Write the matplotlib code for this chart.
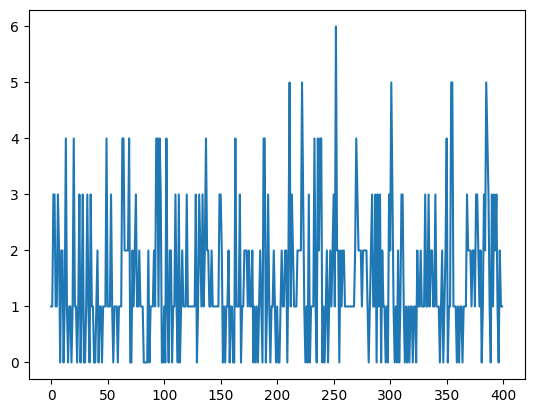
import matplotlib
matplotlib.use("Agg")
import matplotlib.pyplot as plt

values = [
    1,1,3,3,1,1,3,2,0,2,
    2,0,1,4,1,0,1,1,0,1,
    4,1,1,0,1,3,0,1,3,0,
    0,1,3,1,0,3,1,1,0,0,
    1,2,0,1,1,0,1,1,1,4,
    1,1,1,3,1,0,1,1,1,0,
    1,1,1,4,4,2,2,2,2,4,
    0,0,2,1,2,3,1,1,2,1,
    1,1,0,0,0,0,2,0,1,1,
    1,2,1,4,4,1,4,3,0,0,
    1,0,4,1,0,2,2,0,1,1,
    3,1,0,3,0,1,2,1,1,1,
    3,1,1,1,1,1,1,1,3,0,
    1,3,2,1,3,1,2,4,2,2,
    1,1,2,1,1,1,1,1,1,3,
    3,2,0,1,0,1,1,2,0,1,
    1,0,0,4,1,1,1,3,0,1,
    1,2,2,2,1,2,1,1,2,0,
    1,0,1,0,1,2,1,0,4,4,
    0,1,3,1,0,1,1,2,1,0,
    1,0,0,1,2,1,1,2,2,0,
    2,5,1,3,2,1,1,1,2,2,
    2,2,5,3,1,0,1,0,3,0,
    1,1,1,4,1,0,4,2,4,4,
    0,1,0,1,2,0,1,2,1,2,
    3,1,6,2,2,0,2,1,2,2,
    1,1,1,1,1,1,1,1,1,2,
    4,3,2,2,2,1,2,2,2,2,
    1,0,1,2,3,1,1,3,0,3,
    1,3,0,2,1,1,0,1,0,3,
    2,5,3,1,0,1,0,2,0,1,
    3,3,1,0,1,0,1,0,1,1,
    0,1,1,0,2,1,1,2,1,1,
    1,3,1,1,3,1,2,2,1,1,
    3,1,1,1,0,1,2,0,1,2,
    4,0,1,1,5,5,1,1,1,0,
    1,0,1,1,0,1,1,1,3,2,
    2,2,1,2,2,1,3,3,2,1,
    2,0,1,3,2,5,4,3,1,0,
    3,1,3,2,3,1,0,2,1,1,
]
x = list(range(len(values)))

fig, ax = plt.subplots(figsize=(6.4, 4.8), dpi=100)
ax.plot(x, values, color="#1f77b4", linewidth=1.5)
fig.savefig("out.png", dpi=100, bbox_inches="tight")
